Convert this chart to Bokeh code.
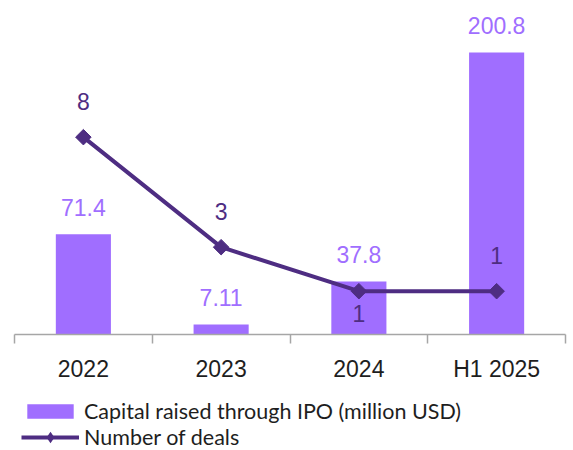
import numpy as np
from bokeh.plotting import figure
from bokeh.layouts import column
from bokeh.models import (Range1d, FixedTicker, ColumnDataSource, LabelSet,
                          Legend, LegendItem)
from bokeh.core.properties import value
from bokeh.embed import file_html
from bokeh.resources import INLINE

# ---- data ----
categories = ["2022", "2023", "2024", "H1 2025"]
capital = [71.4, 7.11, 37.8, 200.8]
capital_labels = ["71.4", "7.11", "37.8", "200.8"]
deals = [8, 3, 1, 1]
deal_labels = ["8", "3", "1", "1"]
series_names = ["Capital raised through IPO (million USD)", "Number of deals"]

BAR = "#A06EFF"
LINE = "#4E2D82"
AXIS = "#A6A6A6"
TEXT = "#1E1E1E"
FONT = "Liberation Sans"

n = len(categories)
xpos = [i + 0.5 for i in range(n)]
# label placement: above the point, except where it would collide with the bar label
deal_offsets = [-22 if (c > d * 10 and i < n - 1 and d == deals[i + 1]) else 36
                for i, (c, d) in enumerate(zip(capital, deals))]

src = ColumnDataSource(dict(x=xpos, cat=categories, capital=capital,
                            cap_lab=capital_labels, deals=deals,
                            deal_lab=deal_labels, deal_off=deal_offsets))

# ---------------- main chart ----------------
p = figure(width=573, height=390, output_backend="svg", toolbar_location=None,
           x_range=Range1d(0, n), y_range=Range1d(0, 237.8),
           y_axis_location=None,
           min_border_left=14, min_border_right=8, min_border_top=0,
           min_border_bottom=56)
p.extra_y_ranges = {"deals": Range1d(-0.968, 14.21)}
p.outline_line_color = None
p.grid.visible = False

xaxis = p.xaxis[0]
xaxis.ticker = FixedTicker(ticks=xpos, minor_ticks=list(range(n + 1)))
xaxis.major_label_overrides = {xv: c for xv, c in zip(xpos, categories)}
xaxis.major_tick_line_color = None
xaxis.major_tick_in = 0
xaxis.major_tick_out = 0
xaxis.minor_tick_in = 0
xaxis.minor_tick_out = 9
xaxis.minor_tick_line_color = AXIS
xaxis.minor_tick_line_width = 1.5
xaxis.axis_line_color = AXIS
xaxis.axis_line_width = 1.5
xaxis.major_label_standoff = 12
xaxis.major_label_text_font = FONT
xaxis.major_label_text_font_size = "23px"
xaxis.major_label_text_color = TEXT

bar_style = dict(fill_color=BAR, line_color=None)
line_style = dict(line_color=LINE, line_width=4)

p.vbar(x="x", top="capital", width=0.4, source=src, **bar_style)
p.line(x="x", y="deals", source=src, y_range_name="deals", **line_style)
p.scatter(x="x", y="deals", source=src, y_range_name="deals", size=11,
          marker="square", angle=np.pi / 4, fill_color=LINE, line_color=LINE)

p.add_layout(LabelSet(x="x", y="capital", text="cap_lab", source=src,
                      y_offset=27, text_align="center", text_baseline="middle",
                      text_font=value(FONT), text_font_size=value("23px"),
                      text_color=BAR))
p.add_layout(LabelSet(x="x", y="deals", text="deal_lab", source=src,
                      y_range_name="deals", y_offset="deal_off",
                      text_align="center", text_baseline="middle",
                      text_font=value(FONT), text_font_size=value("23px"),
                      text_color=LINE))

# ---------------- legend strip ----------------
lg = figure(width=573, height=60, output_backend="svg", toolbar_location=None,
            x_range=Range1d(0, 1), y_range=Range1d(0, 1),
            x_axis_location=None, y_axis_location=None,
            min_border_left=0, min_border_right=0, min_border_top=0,
            min_border_bottom=0)
lg.outline_line_color = None
lg.grid.visible = False
# legend-only renderers: one undefined (NaN) point each, so nothing is drawn in the strip
blank = ColumnDataSource(dict(x=[float("nan")], y=[float("nan")]))
r_bar = lg.vbar(x="x", top="y", width=0.4, source=blank, **bar_style)
r_line = lg.line(x="x", y="y", source=blank, **line_style)
r_pt = lg.scatter(x="x", y="y", source=blank, size=11, marker="diamond",
                  fill_color=LINE, line_color=LINE, line_width=2.5,
                  line_join="miter")

legend = Legend(items=[LegendItem(label=series_names[0], renderers=[r_bar]),
                       LegendItem(label=series_names[1], renderers=[r_line, r_pt])],
                location=(7, 0), orientation="vertical",
                glyph_width=58, glyph_height=18, label_standoff=5,
                label_text_font="Lato", label_text_font_size="21.5px",
                label_text_color=TEXT, padding=0, margin=0, spacing=0,
                border_line_color=None, background_fill_alpha=0)
lg.add_layout(legend)

layout = column(p, lg, spacing=0)
open("out.html", "w").write(file_html(layout, INLINE))
